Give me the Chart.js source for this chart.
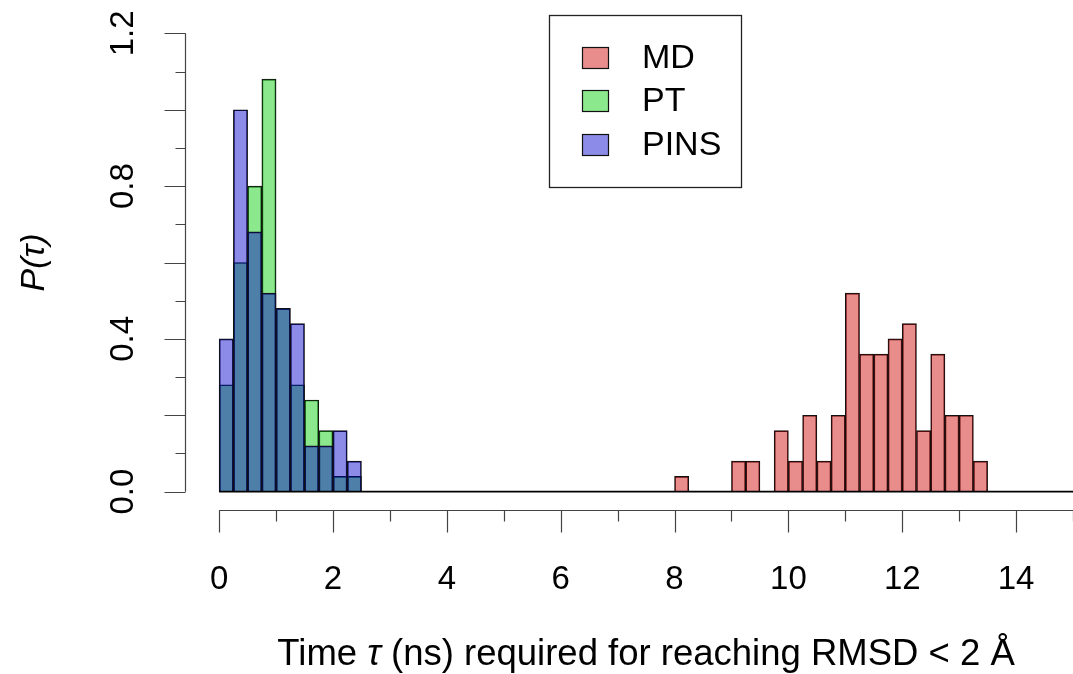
<!DOCTYPE html>
<html><head><meta charset="utf-8">
<script src="https://cdn.jsdelivr.net/npm/chart.js@4.4.1/dist/chart.umd.min.js"></script>
<style>html,body{margin:0;padding:0;background:#fff;overflow:hidden}canvas{display:block}</style>
</head><body>
<canvas id="c" width="1073" height="674"></canvas>
<script>
// ---- data ----
const binWidth = 0.25;
const seriesNames = ['MD', 'PT', 'PINS'];
const earlyBinStarts = [0.00, 0.25, 0.50, 0.75, 1.00, 1.25, 1.50, 1.75, 2.00, 2.25];
const ptValues   = [0.28, 0.60, 0.80, 1.08, 0.48, 0.28, 0.24, 0.16, 0.04, 0.04];
const pinsValues = [0.40, 1.00, 0.68, 0.52, 0.48, 0.44, 0.12, 0.12, 0.16, 0.08];
const mdBinStarts = [8.00, 8.25, 8.50, 8.75, 9.00, 9.25, 9.50, 9.75, 10.00, 10.25, 10.50,
                     10.75, 11.00, 11.25, 11.50, 11.75, 12.00, 12.25, 12.50, 12.75, 13.00, 13.25];
const mdValues = [0.04, 0, 0, 0, 0.08, 0.08, 0, 0.16, 0.08, 0.20, 0.08,
                  0.20, 0.52, 0.36, 0.36, 0.40, 0.44, 0.16, 0.36, 0.20, 0.20, 0.08];
const histRange = [0, 15];
const xTickValues = [0, 1, 2, 3, 4, 5, 6, 7, 8, 9, 10, 11, 12, 13, 14, 15];
const xLabelValues = [0, 2, 4, 6, 8, 10, 12, 14];
const xLabelTexts = ['0', '2', '4', '6', '8', '10', '12', '14'];
const yTickValues = [0, 0.1, 0.2, 0.3, 0.4, 0.5, 0.6, 0.7, 0.8, 0.9, 1.0, 1.1, 1.2];
const yLabelValues = [0, 0.4, 0.8, 1.2];
const yLabelTexts = ['0.0', '0.4', '0.8', '1.2'];
const xTitleParts = ['Time ', '\u03C4', ' (ns) required for reaching RMSD < 2 \u00C5'];
const yTitle = 'P(\u03C4)';

// ---- styles ----
const colors = {
  MD: 'rgba(204,0,0,0.45)',
  PT: 'rgba(0,204,0,0.45)',
  PINS: 'rgba(0,0,204,0.45)'
};
const FONT = '"Liberation Sans", Arial, Helvetica, sans-serif';

const toPoints = (starts, vals) => starts.map((s, i) => ({ x: s + binWidth / 2, y: vals[i] }));

const rAxes = {
  id: 'rAxes',
  afterDraw(chart) {
    const ctx = chart.ctx;
    const xs = chart.scales.x, ys = chart.scales.y;
    const ca = chart.chartArea;
    ctx.save();
    ctx.strokeStyle = '#444';
    ctx.lineWidth = 1.2;
    // y axis
    const ax = Math.round(ca.left) + 0.5;
    ctx.beginPath();
    ctx.moveTo(ax, ys.getPixelForValue(yTickValues[0]));
    ctx.lineTo(ax, ys.getPixelForValue(yTickValues[yTickValues.length - 1]));
    ys.ticks.forEach(t => {
      const py = Math.round(ys.getPixelForValue(t.value)) + 0.5;
      const major = Math.round(t.value * 10) % 2 === 0;
      ctx.moveTo(ax, py);
      ctx.lineTo(ax - (major ? 21 : 10), py);
    });
    ctx.stroke();
    // x axis
    const ay = Math.round(ca.bottom) + 0.5;
    ctx.beginPath();
    ctx.moveTo(xs.getPixelForValue(xTickValues[0]), ay);
    ctx.lineTo(xs.getPixelForValue(xTickValues[xTickValues.length - 1]), ay);
    xs.ticks.forEach(t => {
      const px = Math.round(xs.getPixelForValue(t.value)) + 0.5;
      const major = Math.round(t.value) % 2 === 0;
      ctx.moveTo(px, ay);
      ctx.lineTo(px, ay + (major ? 22 : 11));
    });
    ctx.stroke();

    ctx.fillStyle = '#000';
    // x labels
    ctx.font = '33px ' + FONT;
    ctx.textAlign = 'center';
    ctx.textBaseline = 'alphabetic';
    xLabelValues.forEach((v, i) => {
      ctx.fillText(xLabelTexts[i], xs.getPixelForValue(v), 589);
    });
    // y labels (rotated)
    yLabelValues.forEach((v, i) => {
      ctx.save();
      ctx.translate(133, ys.getPixelForValue(v));
      ctx.rotate(-Math.PI / 2);
      ctx.fillText(yLabelTexts[i], 0, 0);
      ctx.restore();
    });
    // x title (tau in italic)
    const fontN = '36.5px ' + FONT, fontI = 'italic 36.5px ' + FONT;
    const fonts = [fontN, fontI, fontN];
    let total = 0;
    const widths = xTitleParts.map((p, i) => { ctx.font = fonts[i]; const w = ctx.measureText(p).width; total += w; return w; });
    let tx = xs.getPixelForValue((histRange[0] + histRange[1]) / 2) - total / 2;
    ctx.textAlign = 'left';
    xTitleParts.forEach((p, i) => { ctx.font = fonts[i]; ctx.fillText(p, tx, 665); tx += widths[i]; });
    ctx.textAlign = 'center';
    // y title
    ctx.save();
    ctx.translate(44, (ca.top + ca.bottom) / 2);
    ctx.rotate(-Math.PI / 2);
    ctx.font = 'italic 34px ' + FONT;
    ctx.fillText(yTitle, 0, 0);
    ctx.restore();

    // legend
    ctx.fillStyle = '#fff';
    ctx.fillRect(550, 15, 192, 172);
    ctx.strokeStyle = '#222';
    ctx.lineWidth = 1.3;
    ctx.strokeRect(549.5, 15.5, 192, 172);
    const rowY = [58, 101, 145];
    ctx.font = '34px ' + FONT;
    ctx.textAlign = 'left';
    ctx.textBaseline = 'middle';
    seriesNames.forEach((name, i) => {
      const ds = chart.data.datasets.find(d => d.label === name);
      ctx.fillStyle = ds.backgroundColor;
      ctx.fillRect(582, rowY[i] - 11, 27, 22);
      ctx.strokeStyle = '#111';
      ctx.lineWidth = 1.2;
      ctx.strokeRect(582.5, rowY[i] - 10.5, 26, 21);
      ctx.fillStyle = '#000';
      ctx.fillText(name, 642, rowY[i] + 1);
    });
    ctx.restore();
  }
};

new Chart(document.getElementById('c'), {
  type: 'bar',
  data: {
    datasets: [
      { label: 'MD', data: toPoints(mdBinStarts, mdValues), backgroundColor: colors.MD,
        borderColor: '#111', borderWidth: 1, order: 3, grouped: false,
        barPercentage: 1, categoryPercentage: 1 },
      { label: 'PT', data: toPoints(earlyBinStarts, ptValues), backgroundColor: colors.PT,
        borderColor: '#111', borderWidth: 1, order: 2, grouped: false,
        barPercentage: 1, categoryPercentage: 1 },
      { label: 'PINS', data: toPoints(earlyBinStarts, pinsValues), backgroundColor: colors.PINS,
        borderColor: '#111', borderWidth: 1, order: 1, grouped: false,
        barPercentage: 1, categoryPercentage: 1 },
      { type: 'line', label: 'baseline', data: [{ x: histRange[0], y: 0 }, { x: histRange[1], y: 0 }],
        borderColor: '#000', borderWidth: 1.6, pointRadius: 0, order: 0 }
    ]
  },
  options: {
    responsive: false,
    animation: false,
    layout: { padding: { left: 185, right: 0, top: 15, bottom: 164 } },
    plugins: { legend: { display: false }, tooltip: { enabled: false } },
    scales: {
      x: { type: 'linear', display: false, offset: false, min: -0.6, max: 15,
           afterBuildTicks: s => { s.ticks = xTickValues.map(v => ({ value: v })); } },
      y: { type: 'linear', display: false, min: -0.048, max: 1.248,
           afterBuildTicks: s => { s.ticks = yTickValues.map(v => ({ value: v })); } }
    }
  },
  plugins: [rAxes]
});
</script>
</body></html>
